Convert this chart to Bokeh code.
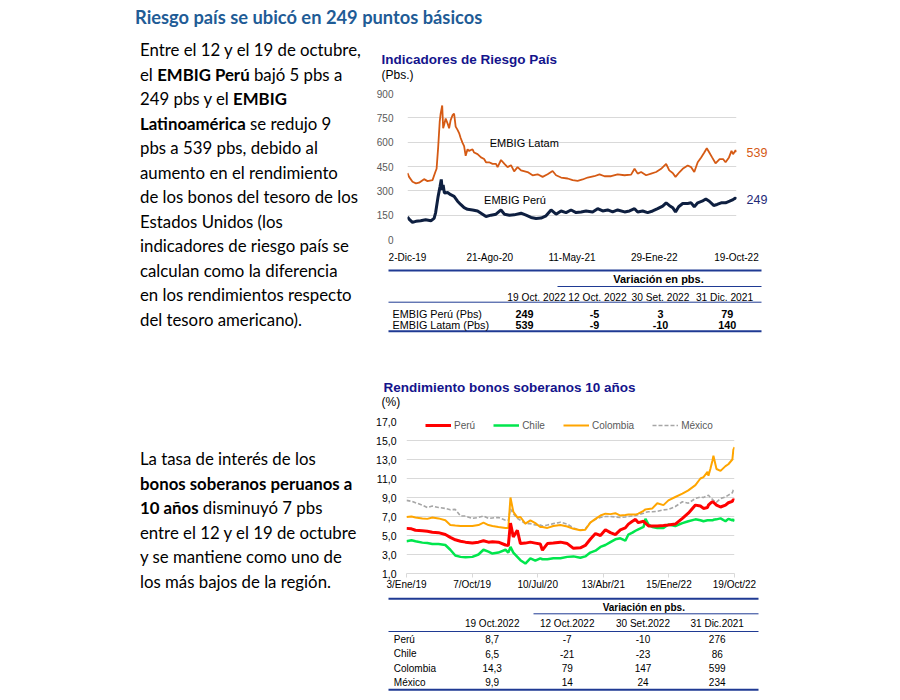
import json
import pandas as pd
from bokeh.plotting import figure
from bokeh.layouts import column, row
from bokeh.models import (Div, ColumnDataSource, FixedTicker, CustomJSTickFormatter,
                          Label, Legend, LegendItem, Range1d, LinearAxis)
from bokeh.core.properties import value
from bokeh.embed import file_html
from bokeh.resources import INLINE

# ------------------------------------------------------------------ texts
page_title = "Riesgo país se ubicó en 249 puntos básicos"
para1_lines = [
    "Entre el 12 y el 19 de octubre,",
    "el <b>EMBIG Perú</b> bajó 5 pbs a",
    "249 pbs y el <b>EMBIG</b>",
    "<b>Latinoamérica</b> se redujo 9",
    "pbs a 539 pbs, debido al",
    "aumento en el rendimiento",
    "de los bonos del tesoro de los",
    "Estados Unidos (los",
    "indicadores de riesgo país se",
    "calculan como la diferencia",
    "en los rendimientos respecto",
    "del tesoro americano).",
]
para2_lines = [
    "La tasa de interés de los",
    "<b>bonos soberanos peruanos a</b>",
    "<b>10 años</b> disminuyó 7 pbs",
    "entre el 12 y el 19 de octubre",
    "y se mantiene como uno de",
    "los más bajos de la región.",
]

# ------------------------------------------------------------------ chart 1 data (Pbs.)
risk_title = "Indicadores de Riesgo País"
risk_unit = "(Pbs.)"
risk_tick_dates = ["2019-12-02", "2020-08-21", "2021-05-11", "2022-01-29", "2022-10-19"]
risk_tick_labels = ["2-Dic-19", "21-Ago-20", "11-May-21", "29-Ene-22", "19-Oct-22"]
risk_y_ticks = [0, 150, 300, 450, 600, 750, 900]

latam_dates = ["2019-12-02","2019-12-07","2019-12-18","2019-12-29","2020-01-08","2020-01-24","2020-02-04",
    "2020-02-20","2020-02-29","2020-03-04","2020-03-09","2020-03-14","2020-03-17","2020-03-22","2020-03-25",
    "2020-03-28","2020-04-02","2020-04-08","2020-04-13","2020-04-18","2020-04-24","2020-04-29","2020-05-04",
    "2020-05-10","2020-05-15","2020-05-20","2020-05-26","2020-05-31","2020-06-05","2020-06-11","2020-06-16",
    "2020-06-27","2020-07-02","2020-07-13","2020-07-24","2020-08-03","2020-08-09","2020-08-19","2020-08-30",
    "2020-09-10","2020-09-15","2020-09-26","2020-10-07","2020-10-17","2020-10-28","2020-11-07","2020-11-18",
    "2020-11-29","2020-12-20","2021-01-05","2021-01-21","2021-02-06","2021-02-22","2021-03-10","2021-03-21",
    "2021-04-06","2021-04-27","2021-05-13","2021-05-29","2021-06-14","2021-06-30","2021-07-21","2021-08-07",
    "2021-08-23","2021-09-13","2021-10-04","2021-10-26","2021-11-16","2021-11-27","2021-12-07","2021-12-18",
    "2022-01-03","2022-01-19","2022-02-04","2022-02-20","2022-03-08","2022-03-18","2022-03-29","2022-04-07",
    "2022-04-20","2022-04-30","2022-05-16","2022-05-27","2022-06-06","2022-06-17","2022-06-28","2022-07-08",
    "2022-07-16","2022-07-24","2022-08-02","2022-08-13","2022-08-26","2022-09-06","2022-09-14","2022-09-25",
    "2022-10-03","2022-10-08","2022-10-16","2022-10-19"]
latam_vals = [410,386,356,346,350,372,360,366,416,436,566,726,776,826,686,706,746,716,686,736,
    766,776,696,676,656,626,596,576,516,556,546,556,536,526,506,496,476,476,466,466,
    446,490,466,446,458,420,446,426,416,396,402,386,402,422,396,382,376,366,362,370,
    382,390,402,390,390,402,396,400,436,406,416,396,406,416,436,466,426,410,386,416,
    436,456,446,416,476,506,536,562,536,506,470,496,496,476,506,546,526,550,539]

peru_dates = ["2019-12-02","2019-12-07","2019-12-18","2019-12-29","2020-01-13","2020-01-29","2020-02-15",
    "2020-02-25","2020-03-01","2020-03-09","2020-03-15","2020-03-19","2020-03-22","2020-03-25","2020-03-29",
    "2020-04-08","2020-04-18","2020-04-29","2020-05-10","2020-05-20","2020-05-31","2020-06-11","2020-06-27",
    "2020-07-13","2020-07-29","2020-08-09","2020-08-25","2020-09-10","2020-09-26","2020-10-07","2020-10-23",
    "2020-11-07","2020-11-29","2020-12-15","2020-12-31","2021-01-16","2021-02-01","2021-02-17","2021-03-05",
    "2021-03-21","2021-04-06","2021-04-22","2021-05-08","2021-05-24","2021-06-09","2021-06-25","2021-07-16",
    "2021-08-01","2021-08-17","2021-09-02","2021-09-18","2021-10-04","2021-10-26","2021-11-11","2021-11-27",
    "2021-12-07","2021-12-23","2022-01-08","2022-01-24","2022-02-09","2022-02-25","2022-03-08","2022-03-18",
    "2022-03-29","2022-04-07","2022-04-17","2022-04-30","2022-05-16","2022-05-27","2022-06-06","2022-06-17",
    "2022-07-01","2022-07-13","2022-07-24","2022-08-07","2022-08-18","2022-08-31","2022-09-14","2022-09-27",
    "2022-10-08","2022-10-16","2022-10-19"]
peru_vals = [140,126,106,112,116,122,116,130,166,266,326,370,306,336,286,290,276,266,236,216,
    196,186,182,176,156,142,150,156,182,156,150,152,162,150,136,130,132,146,182,156,
    176,166,182,166,170,176,170,190,176,182,170,182,170,176,190,170,176,166,176,190,
    206,226,210,196,170,202,222,222,226,202,226,236,250,236,210,216,226,226,236,246,256,249]

latam_name, peru_name = "EMBIG Latam", "EMBIG Perú"
latam_last, peru_last = 539, 249

# ------------------------------------------------------------------ table 1
t1_header = "Variación en pbs."
t1_cols = ["19 Oct. 2022", "12 Oct. 2022", "30 Set. 2022", "31 Dic. 2021"]
t1_rows = ["EMBIG Perú (Pbs)", "EMBIG Latam (Pbs)"]
t1_vals = [[249, -5, 3, 79], [539, -9, -10, 140]]

# ------------------------------------------------------------------ chart 2 data (%)
bond_title = "Rendimiento bonos soberanos 10 años"
bond_unit = "(%)"
bond_tick_dates = ["2019-01-03", "2019-10-07", "2020-07-10", "2021-04-13", "2022-01-15", "2022-10-19"]
bond_tick_labels = ["3/Ene/19", "7/Oct/19", "10/Jul/20", "13/Abr/21", "15/Ene/22", "19/Oct/22"]
bond_y_ticks = [1, 3, 5, 7, 9, 11, 13, 15, 17]
bond_names = ["Perú", "Chile", "Colombia", "México"]

bond_dates = ["2019-01-03","2019-01-24","2019-02-10","2019-03-11","2019-04-01","2019-04-22","2019-05-18",
    "2019-06-16","2019-07-07","2019-07-28","2019-08-19","2019-09-09","2019-10-08","2019-11-03","2019-11-24",
    "2019-12-15","2020-01-01","2020-01-26","2020-02-25","2020-03-08","2020-03-17","2020-03-29","2020-04-15",
    "2020-04-28","2020-05-19","2020-06-09","2020-06-30","2020-07-21","2020-07-30","2020-08-20","2020-09-14",
    "2020-10-14","2020-11-12","2020-12-08","2021-01-06","2021-01-27","2021-02-17","2021-03-11","2021-04-01",
    "2021-04-22","2021-05-13","2021-06-03","2021-06-24","2021-07-15","2021-07-28","2021-08-14","2021-08-27",
    "2021-09-08","2021-09-30","2021-10-08","2021-10-21","2021-11-06","2021-11-27","2021-12-23","2022-01-13",
    "2022-02-11","2022-03-13","2022-04-07","2022-05-07","2022-05-28","2022-06-10","2022-06-27","2022-07-01",
    "2022-07-09","2022-07-18","2022-07-22","2022-08-04","2022-08-21","2022-09-11","2022-09-23","2022-10-10",
    "2022-10-14","2022-10-19"]
peru_yield = [5.75,5.7,5.55,5.5,5.45,5.35,5.3,5.1,4.8,4.55,4.4,4.3,4.2,4.3,4.45,4.3,4.35,4.3,4.0,3.95,
    6.3,4.85,5.55,4.15,4.2,4.3,4.2,4.1,3.45,4.15,4.2,4.3,4.15,3.65,3.7,3.95,4.6,5.2,5.0,5.6,
    5.3,5.1,5.6,5.8,6.2,6.5,6.7,6.35,6.5,6.3,6.0,6.0,6.0,6.05,6.1,6.2,6.8,7.35,8.2,8.1,
    7.85,7.95,8.2,8.4,8.55,8.5,8.2,8.0,8.2,8.45,8.6,8.8,8.7]
chile_yield = [4.4,4.5,4.4,4.25,4.2,4.1,4.1,4.0,3.5,2.9,2.75,2.7,2.75,3.0,3.5,3.3,3.1,3.2,3.5,3.2,
    3.8,3.2,2.75,2.4,2.05,2.6,2.35,2.6,2.5,2.5,2.6,2.6,2.75,2.8,2.65,2.8,3.2,3.4,3.8,4.0,
    4.3,4.6,4.7,4.45,5.1,5.3,5.5,5.65,5.9,6.75,6.15,5.9,5.8,5.8,6.15,6.0,6.3,6.5,6.7,6.6,
    6.5,6.6,6.6,6.6,6.6,6.65,6.7,6.8,6.5,6.75,6.6,6.7,6.5]
colombia_yield = [6.95,7.0,6.9,6.8,6.75,6.9,6.8,6.6,6.1,6.05,6.0,6.0,6.0,6.1,6.35,6.1,6.0,5.9,5.8,5.8,
    9.0,7.5,6.9,6.95,6.25,6.6,6.3,5.9,5.9,5.8,6.0,6.1,5.95,5.7,5.55,5.6,6.35,6.75,7.1,7.3,
    7.25,7.35,7.1,7.15,7.2,7.2,7.2,7.3,7.6,7.75,7.8,7.85,8.4,8.2,8.7,9.05,9.4,9.75,10.3,11.0,
    11.15,11.7,11.3,12.0,12.9,13.4,12.0,11.8,12.3,12.5,13.0,14.0,14.3]
mexico_yield = [8.7,8.6,8.45,8.2,7.95,8.1,7.95,7.85,7.7,7.75,7.05,7.05,6.8,6.9,7.05,6.8,6.85,6.9,6.6,6.6,
    7.8,7.3,6.8,6.6,6.25,6.25,6.1,6.1,6.0,6.1,6.25,6.4,6.2,5.8,5.55,5.7,6.35,6.7,6.9,7.0,
    7.0,6.95,6.9,6.95,7.0,7.05,7.1,7.2,7.35,7.45,7.5,7.5,7.55,7.7,7.75,8.05,8.55,8.4,8.9,9.05,
    9.0,9.2,9.25,9.0,8.8,8.7,8.5,8.9,9.05,9.25,9.5,9.8,9.9]

# ------------------------------------------------------------------ table 2
t2_header = "Variación en pbs."
t2_cols = ["19 Oct.2022", "12 Oct.2022", "30 Set.2022", "31 Dic.2021"]
t2_rows = ["Perú", "Chile", "Colombia", "México"]
t2_level = [8.7, 6.5, 14.3, 9.9]
t2_var = [[-7, -10, 276], [-21, -23, 86], [79, 147, 599], [14, 24, 234]]

# ------------------------------------------------------------------ styles
FONT = "Liberation Sans"
NAVY_TITLE = "#14148C"
TABLE_LINE = "#1F3A93"
GRID = "#D9D9D9"
C_LATAM = "#D55A14"
C_PERU1 = "#0E1F40"
C_PERU1_LABEL = "#1F2A78"
C_PERU = "#FF0000"
C_CHILE = "#00E64D"
C_COL = "#FFA500"
C_MEX = "#A6A6A6"


def ms(s):
    return pd.Timestamp(s).value // 10**6


def blank(w, h):
    p = figure(width=w, height=h, x_range=Range1d(0, w), y_range=Range1d(h, 0),
               min_border_left=0, min_border_right=0, min_border_top=0, min_border_bottom=0,
               toolbar_location=None, output_backend="svg",
               x_axis_location=None, y_axis_location=None, frame_align=False)
    p.outline_line_color = None
    p.grid.visible = False
    return p


def date_formatter(dates, labels):
    mapping = {str(ms(d)): l for d, l in zip(dates, labels)}
    return CustomJSTickFormatter(code="const m = %s; const k = String(Math.round(tick)); return (k in m) ? m[k] : '';" % json.dumps(mapping))


# ------------------------------------------------------------------ banner + left text
banner = Div(text=('<div style="font-family:Lato, sans-serif; font-weight:bold; font-size:18.3px; '
                   'line-height:20px; color:#1F5C96; padding-left:135px; padding-top:7px; white-space:nowrap;">'
                   + page_title + '</div>'),
             width=884, height=36, margin=0)

left_html = ('<div style="font-family:Lato, sans-serif; font-size:16.8px; line-height:24.5px; color:#000; '
             'white-space:nowrap; padding-left:140px;">'
             '<div style="margin-top:2px;">' + "<br>".join(para1_lines) + '</div>'
             '<div style="margin-top:115px;">' + "<br>".join(para2_lines) + '</div></div>')
left_div = Div(text=left_html, width=372, height=656, margin=0)

# ------------------------------------------------------------------ chart 1 title block
r1 = blank(400, 49)
r1.text(x=[9], y=[23], text=[risk_title], text_font=value(FONT), text_font_size="13.5px",
        text_font_style="bold", text_color=NAVY_TITLE, text_baseline="middle", text_align="left")
r1.text(x=[9], y=[38], text=[risk_unit], text_font=value(FONT), text_font_size="12px",
        text_color="#000000", text_baseline="middle", text_align="left")

# ------------------------------------------------------------------ chart 1
c1 = figure(width=400, height=180, x_axis_type="datetime",
            x_range=Range1d(ms(risk_tick_dates[0]), ms(risk_tick_dates[-1])),
            y_range=Range1d(0, 900), output_backend="svg", toolbar_location=None,
            min_border_left=35, min_border_right=36, min_border_top=8, min_border_bottom=21,
            frame_align=False)
c1.outline_line_color = None
c1.xgrid.visible = False
c1.ygrid.grid_line_color = GRID
c1.yaxis.ticker = FixedTicker(ticks=risk_y_ticks)
c1.xaxis.ticker = FixedTicker(ticks=[ms(d) for d in risk_tick_dates])
c1.xaxis.formatter = date_formatter(risk_tick_dates, risk_tick_labels)
for ax in (c1.xaxis[0], c1.yaxis[0]):
    ax.axis_line_color = None
    ax.major_tick_line_color = None
    ax.minor_tick_line_color = None
    ax.major_label_text_font = FONT
    ax.major_label_text_font_size = "10px"
c1.yaxis.major_label_text_color = "#595959"
c1.xaxis.major_label_text_color = "#000000"
c1.yaxis.major_label_standoff = 8
c1.xaxis.major_label_standoff = 6

src_latam = ColumnDataSource(dict(x=pd.to_datetime(latam_dates), y=latam_vals))
src_peru = ColumnDataSource(dict(x=pd.to_datetime(peru_dates), y=peru_vals))
c1.line("x", "y", source=src_latam, color=C_LATAM, line_width=1.8)
c1.line("x", "y", source=src_peru, color=C_PERU1, line_width=3)

c1.add_layout(Label(x=ms("2020-08-21"), y=592, text=latam_name, text_font=FONT, text_font_size="11px",
                    text_color="#000000", text_baseline="middle", text_align="left"))
c1.add_layout(Label(x=ms("2020-08-03"), y=246, text=peru_name, text_font=FONT, text_font_size="11px",
                    text_color="#000000", text_baseline="middle", text_align="left"))

# last values shown at the right edge, each on its own right axis (first: orange, second: navy)
ax_latam = LinearAxis(ticker=FixedTicker(ticks=[latam_last]), axis_line_color=None,
                      major_tick_line_color=None, minor_tick_line_color=None,
                      major_label_standoff=4, major_label_text_font=FONT,
                      major_label_text_font_size="12.5px", major_label_text_color=C_LATAM)
ax_peru = LinearAxis(ticker=FixedTicker(ticks=[peru_last]), axis_line_color=None,
                     major_tick_line_color=None, minor_tick_line_color=None,
                     major_label_standoff=-30, major_label_text_font=FONT,
                     major_label_text_font_size="12.5px", major_label_text_color=C_PERU1_LABEL)
c1.add_layout(ax_latam, "right")
c1.add_layout(ax_peru, "right")

# ------------------------------------------------------------------ table 1 + chart 2 title block
t1 = blank(400, 150)
x0, x1 = 16, 389
t1.segment(x0=[x0, 185, x0, x0], y0=[5, 21, 36.7, 65.7], x1=[x1, x1, x1, x1], y1=[5, 21, 36.7, 65.7],
           line_color=TABLE_LINE, line_width=[2, 1, 1, 2])
t1.text(x=[286], y=[13.7], text=[t1_header], text_font=value(FONT), text_font_size="11px",
        text_font_style="bold", text_align="center", text_baseline="middle", text_color="#000000")
t1_col_x = [164, 225, 288, 352]
t1.text(x=t1_col_x, y=[32] * 4, text=t1_cols, text_font=value(FONT), text_font_size="10.2px",
        text_align="center", text_baseline="middle", text_color="#000000")
t1_row_y = [48.5, 59]
t1.text(x=[20] * 2, y=t1_row_y, text=t1_rows, text_font=value(FONT), text_font_size="10.8px",
        text_align="left", text_baseline="middle", text_color="#000000")
t1_val_x = [152, 222, 288, 354.7]
vx, vy, vt = [], [], []
for ri, vals in enumerate(t1_vals):
    for ci, v in enumerate(vals):
        vx.append(t1_val_x[ci]); vy.append(t1_row_y[ri]); vt.append(str(v))
t1.text(x=vx, y=vy, text=vt, text_font=value(FONT), text_font_size="10.8px", text_font_style="bold",
        text_align="center", text_baseline="middle", text_color="#000000")
t1.text(x=[11], y=[121.7], text=[bond_title], text_font=value(FONT), text_font_size="13.5px",
        text_font_style="bold", text_color=NAVY_TITLE, text_baseline="middle", text_align="left")
t1.text(x=[9], y=[136], text=[bond_unit], text_font=value(FONT), text_font_size="12px",
        text_color="#000000", text_baseline="middle", text_align="left")

# ------------------------------------------------------------------ chart 2
c2 = figure(width=400, height=180, x_axis_type="datetime",
            x_range=Range1d(ms(bond_tick_dates[0]), ms(bond_tick_dates[-1])),
            y_range=Range1d(1, 17), output_backend="svg", toolbar_location=None,
            min_border_left=34, min_border_right=38, min_border_top=6, min_border_bottom=22,
            frame_align=False)
c2.outline_line_color = None
c2.xgrid.visible = False
c2.ygrid.grid_line_color = GRID
c2.yaxis.ticker = FixedTicker(ticks=bond_y_ticks)
c2.yaxis.formatter = CustomJSTickFormatter(code="return tick.toFixed(1).replace('.', ',');")
c2.xaxis.ticker = FixedTicker(ticks=[ms(d) for d in bond_tick_dates])
c2.xaxis.formatter = date_formatter(bond_tick_dates, bond_tick_labels)
c2.yaxis.axis_line_color = None
c2.yaxis.major_tick_line_color = None
c2.yaxis.minor_tick_line_color = None
c2.xaxis.axis_line_color = GRID
c2.xaxis.major_tick_line_color = GRID
c2.xaxis.major_tick_out = 4
c2.xaxis.major_tick_in = 0
c2.xaxis.minor_tick_line_color = None
for ax in (c2.xaxis[0], c2.yaxis[0]):
    ax.major_label_text_font = FONT
    ax.major_label_text_color = "#000000"
c2.yaxis.major_label_text_font_size = "10.5px"
c2.xaxis.major_label_text_font_size = "10px"
c2.yaxis.major_label_standoff = 4
c2.xaxis.major_label_standoff = 1

src_b = ColumnDataSource(dict(x=pd.to_datetime(bond_dates), pe=peru_yield, cl=chile_yield,
                              co=colombia_yield, mx=mexico_yield))
r_mx = c2.line("x", "mx", source=src_b, color=C_MEX, line_width=1.6, line_dash="4 2")
r_co = c2.line("x", "co", source=src_b, color=C_COL, line_width=2)
r_cl = c2.line("x", "cl", source=src_b, color=C_CHILE, line_width=2.5)
r_pe = c2.line("x", "pe", source=src_b, color=C_PERU, line_width=3)
legend = Legend(items=[LegendItem(label=bond_names[0], renderers=[r_pe]),
                       LegendItem(label=bond_names[1], renderers=[r_cl]),
                       LegendItem(label=bond_names[2], renderers=[r_co]),
                       LegendItem(label=bond_names[3], renderers=[r_mx])],
                orientation="horizontal", location=(19, 142), padding=0, margin=0,
                spacing=18, label_standoff=3, glyph_width=26, glyph_height=12, label_height=12,
                label_text_font=FONT, label_text_font_size="10px", label_text_color="#595959",
                border_line_color=None, background_fill_alpha=0)
c2.add_layout(legend)

# ------------------------------------------------------------------ table 2
t2 = blank(400, 97)
t2.segment(x0=[16, 161, 16, 16], y0=[3.3, 18.3, 36, 94.3], x1=[386, 386, 386, 386],
           y1=[3.3, 18.3, 36, 94.3], line_color=TABLE_LINE, line_width=[2, 1, 1, 2])
t2.text(x=[271.3], y=[12.3], text=[t2_header], text_font=value(FONT), text_font_size="10px",
        text_font_style="bold", text_align="center", text_baseline="middle", text_color="#000000")
t2_col_x = [119.7, 194.7, 270.5, 344.7]
t2.text(x=t2_col_x, y=[28.3] * 4, text=t2_cols, text_font=value(FONT), text_font_size="10px",
        text_align="center", text_baseline="middle", text_color="#000000")
t2_row_y = [43.7, 58.3, 72.7, 86.7]
t2.text(x=[21.3] * 4, y=t2_row_y, text=t2_rows, text_font=value(FONT), text_font_size="10px",
        text_align="left", text_baseline="middle", text_color="#000000")
wx, wy, wt = [], [], []
for ri in range(len(t2_rows)):
    cells = [f"{t2_level[ri]:.1f}".replace(".", ",")] + [str(v) for v in t2_var[ri]]
    for ci, s in enumerate(cells):
        wx.append(t2_col_x[ci]); wy.append(t2_row_y[ri]); wt.append(s)
t2.text(x=wx, y=wy, text=wt, text_font=value(FONT), text_font_size="10px",
        text_align="center", text_baseline="middle", text_color="#000000")

# ------------------------------------------------------------------ layout
right_col = column(r1, c1, t1, c2, t2, spacing=0)
layout = column(banner, row(left_div, right_col, spacing=0), spacing=0)

open("out.html", "w").write(file_html(layout, INLINE, title="Riesgo país"))
